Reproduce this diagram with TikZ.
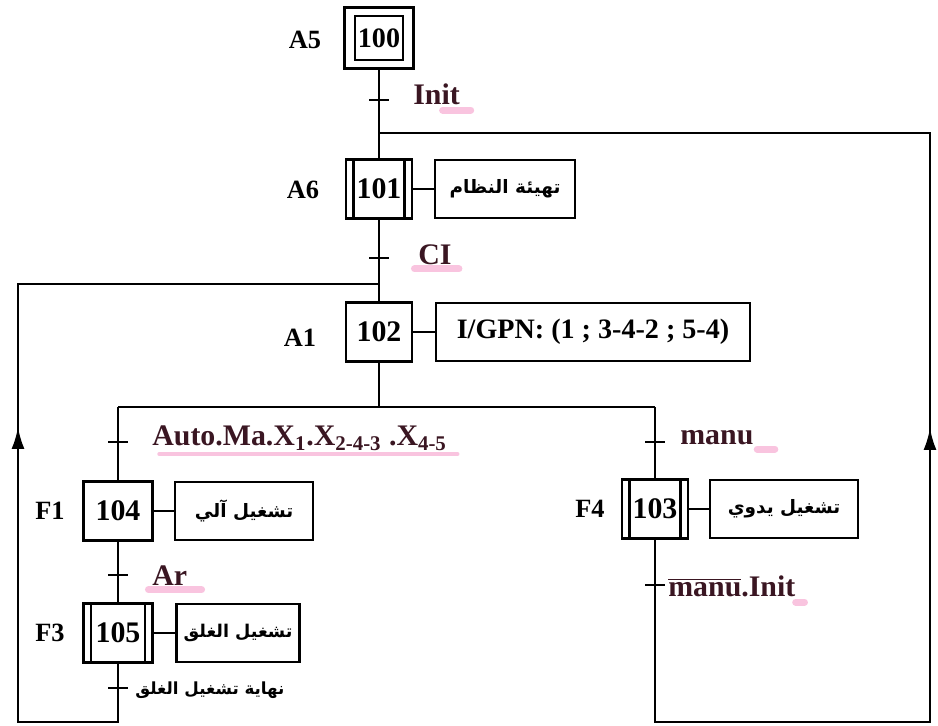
\documentclass[tikz,border=0pt]{standalone}
\usepackage{fontspec}
\setmainfont{Liberation Serif}
\newfontfamily\arabicfont[Script=Arabic]{DejaVu Sans}
\TeXXeTstate=1
\usetikzlibrary{arrows.meta, positioning}
\definecolor{LabelInk}{HTML}{3A1622}
\definecolor{Marker}{HTML}{F27DB8}

\tikzset{
  stepbox/.style={draw, line width=1.4pt, minimum width=1.32cm, minimum height=1.18cm, inner sep=0pt, font=\fontsize{17}{20}\selectfont\bfseries},
  macrobox/.style={stepbox, path picture={
      \draw[line width=1.4pt] ([xshift=0.15cm]path picture bounding box.north west) -- ([xshift=0.15cm]path picture bounding box.south west);
      \draw[line width=1.4pt] ([xshift=-0.15cm]path picture bounding box.north east) -- ([xshift=-0.15cm]path picture bounding box.south east);}},
  actbox/.style={draw, line width=1.4pt, minimum height=1.16cm, inner sep=0pt},
  arab/.style={font=\arabicfont\fontsize{10.5}{13}\selectfont\bfseries},
  tag/.style={font=\fontsize{15}{18}\selectfont\bfseries},
  cond/.style={anchor=west, text=LabelInk, inner sep=0pt, font=\fontsize{17}{20}\selectfont\bfseries},
  link/.style={line width=1.4pt},
  smudge/.style={Marker, opacity=0.45, line width=4pt, line cap=round},
}

\begin{document}
\begin{tikzpicture}[x=0.02cm, y=-0.02cm]
    \useasboundingbox (0,0) rectangle (938,726);
    % Steps
    \node[stepbox, minimum width=0.96cm, minimum height=0.88cm, font=\fontsize{16}{19}\selectfont\bfseries] (s100) at (379,38) {100};
    \node[draw, line width=1.4pt, minimum width=1.38cm, minimum height=1.22cm] (s100o) at (s100) {};
    \node[macrobox] (s101) at (379,189) {101};
    \node[stepbox] (s102) at (379,332) {102};
    \node[stepbox, minimum width=1.38cm] (s104) at (118,511) {104};
    \node[macrobox, minimum width=1.38cm] (s105) at (118,633) {105};
    \node[macrobox] (s103) at (655,509) {103};
    % Step names
    \node[tag] (nA5) at (305,40) {A5};
    \node[tag] (nA6) at (303,190) {A6};
    \node[tag] (nA1) at (300,338) {A1};
    \node[tag] (nF1) at (50,511) {F1};
    \node[tag] (nF4) at (590,509) {F4};
    \node[tag] (nF3) at (50,633) {F3};
    % Actions
    \node[actbox, minimum width=2.8cm, arab] (a101) at (505,189) {\beginR تهيئة النظام\endR};
    \node[actbox, minimum width=6.28cm, font=\fontsize{16}{19}\selectfont\bfseries] (a102) at (593,332) {I/GPN: (1 ; 3-4-2 ; 5-4)};
    \node[actbox, minimum width=2.76cm, arab] (a104) at (244,511) {\beginR تشغيل آلي\endR};
    \node[actbox, minimum width=2.46cm, arab, font=\arabicfont\fontsize{10}{12}\selectfont\bfseries] (a105) at (238,633) {\beginR تشغيل الغلق\endR};
    \node[actbox, minimum width=2.96cm, arab] (a103) at (784,509) {\beginR تشغيل يدوي\endR};
    \draw[link] (s101) -- (a101);
    \draw[link] (s102) -- (a102);
    \draw[link] (s104) -- (a104);
    \draw[link] (s105) -- (a105);
    \draw[link] (s103) -- (a103);
    % Junctions and loop corners
    \coordinate (jTop) at (379,133);
    \coordinate (jMid) at (379,284);
    \coordinate (jDiv) at (379,407);
    \coordinate (jL) at (118,407);
    \coordinate (jR) at (655,407);
    \coordinate (lb1) at (118,722);
    \coordinate (lb2) at (18,722);
    \coordinate (lb3) at (18,284);
    \coordinate (lArr) at (18,427);
    \coordinate (rb1) at (655,722);
    \coordinate (rb2) at (930,722);
    \coordinate (rb3) at (930,133);
    \coordinate (rArr) at (930,428);
    % Links
    \draw[link] (s100o) -- (s101);
    \draw[link] (s101) -- (s102);
    \draw[link] (s102) -- (jDiv);
    \draw[link] (jL) -- (jR);
    \draw[link] (jL) -- (s104);
    \draw[link] (jR) -- (s103);
    \draw[link] (s104) -- (s105);
    \draw[link] (s105.south) -- (lb1) -- (lb2) -- (lb3) -- (jMid);
    \draw[link] (s103.south) -- (rb1) -- (rb2) -- (rb3) -- (jTop);
    \draw[link, -{Latex[length=0.44cm, width=0.26cm]}] (lb2) -- (lArr);
    \draw[link, -{Latex[length=0.44cm, width=0.26cm]}] (rb2) -- (rArr);
    % Transitions
    \foreach \t/\x/\y in {tInit/379/100, tCI/379/258, tAuto/118/442, tManu/655/442, tAr/118/575, tBack/655/585, tEnd/118/688}{
        \coordinate (\t) at (\x,\y);
        \draw[link] ([xshift=-0.2cm]\t) -- ([xshift=0.2cm]\t);
    }
    % Receptivities
    \node[cond] (rInit) at (413,94) {Init};
    \node[cond] (rCI) at (418,255) {CI};
    \node[cond] (rAuto) at (152,438) {Auto.Ma.X\textsubscript{1}.X\textsubscript{2-4-3} .X\textsubscript{4-5}};
    \node[cond] (rManu) at (680,438) {manu};
    \node[cond] (rAr) at (152,576) {Ar};
    \node[cond] (rBack) at (668,586) {$\overline{\mbox{manu}}$.Init};
    \node[cond, text=black, font=\arabicfont\fontsize{9.5}{12}\selectfont\bfseries] (rEnd) at (135,690) {\beginR نهاية تشغيل الغلق\endR};
    % Marker strokes
    \draw[smudge] ([xshift=-10pt,yshift=-3pt]rInit.south east) -- ++(16pt,0);
    \draw[smudge] ([xshift=-2pt,yshift=-2pt]rCI.south west) -- ([xshift=4pt,yshift=-2pt]rCI.south east);
    \draw[smudge, line width=2pt] ([xshift=4pt,yshift=-2pt]rAuto.south west) -- ([xshift=6pt,yshift=-2pt]rAuto.south east);
    \draw[smudge] ([xshift=2pt,yshift=-2pt]rManu.south east) -- ++(10pt,0);
    \draw[smudge] ([xshift=-2pt,yshift=-2pt]rAr.south west) -- ([xshift=8pt,yshift=-2pt]rAr.south east);
    \draw[smudge] ([xshift=0pt,yshift=-3pt]rBack.south east) -- ++(5pt,0);
\end{tikzpicture}
\end{document}
